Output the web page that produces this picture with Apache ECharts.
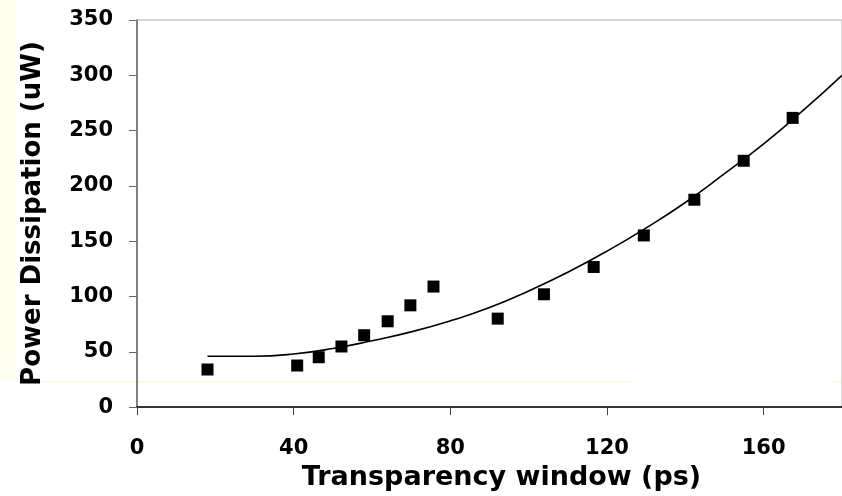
<!DOCTYPE html>
<html>
<head>
<meta charset="utf-8">
<script src="https://cdn.jsdelivr.net/npm/echarts@6/dist/echarts.min.js"></script>
<style>
html,body{margin:0;padding:0;background:#fff;}
#chart{width:842px;height:496px;}
</style>
</head>
<body>
<div id="chart"></div>
<script>
// Measured points
const pointX = [18.0, 40.9, 46.4, 52.2, 58.0, 64.0, 69.8, 75.7, 92.1, 103.9, 116.6, 129.4, 142.3, 154.9, 167.4];
const pointY = [34, 37.6, 45.1, 54.8, 65, 77.6, 92, 109, 80, 102, 126.7, 155.2, 187.5, 222.7, 261.5];
// Trend curve
const trendX = [18, 30, 40, 50, 60, 70, 80, 90, 100, 110, 120, 130, 140, 150, 160, 170, 180];
const trendY = [46, 46, 48, 53, 60, 68, 78, 90, 105, 122, 141, 162, 185, 211, 238, 268, 300];
const xTicks = [0, 40, 80, 120, 160];
const yTicks = [0, 50, 100, 150, 200, 250, 300, 350];

const chart = echarts.init(document.getElementById('chart'), null, {renderer: 'canvas'});
const font = 'DejaVu Sans, Liberation Sans, Arial, sans-serif';
chart.setOption({
  animation: false,
  backgroundColor: '#ffffff',
  graphic: [
    {type: 'rect', z: -10, shape: {x: 0, y: 0, width: 16, height: 380}, style: {fill: '#fffff0'}},
    {type: 'rect', z: -10, shape: {x: 40, y: 381.5, width: 593, height: 1}, style: {fill: '#f7f7d0'}},
    {type: 'rect', z: -10, shape: {x: 830, y: 381.5, width: 12, height: 1}, style: {fill: '#f7f7d0'}}
  ],
  grid: {
    left: 137, top: 20, width: 709.6, height: 387.7,
    show: true, borderColor: '#b0b0b0', borderWidth: 1, backgroundColor: 'transparent'
  },
  xAxis: {
    type: 'value', min: 0, max: 180, interval: 40,
    name: 'Transparency window (ps)', nameLocation: 'middle', nameGap: 56,
    nameTextStyle: {fontFamily: font, fontWeight: 'bold', fontSize: 27, color: '#000', padding: [0, 0, 0, 24]},
    axisLine: {show: true, onZero: false, lineStyle: {color: '#000', width: 1.5}},
    axisTick: {show: true, length: 8, lineStyle: {color: '#444', width: 1}},
    axisLabel: {
      margin: 31, fontFamily: font, fontWeight: 'bold', fontSize: 21, color: '#000',
      customValues: xTicks
    },
    splitLine: {show: false}
  },
  yAxis: {
    type: 'value', min: 0, max: 350, interval: 50,
    name: 'Power Dissipation (uW)', nameLocation: 'middle', nameGap: 91,
    nameTextStyle: {fontFamily: font, fontWeight: 'bold', fontSize: 26, color: '#000'},
    axisLine: {show: true, lineStyle: {color: '#666', width: 1.5}},
    axisTick: {show: true, length: 8, lineStyle: {color: '#666', width: 1}},
    axisLabel: {
      margin: 24, fontFamily: font, fontWeight: 'bold', fontSize: 21, color: '#000',
      customValues: yTicks
    },
    splitLine: {show: false}
  },
  series: [
    {
      type: 'line', smooth: true, showSymbol: false, symbol: 'none',
      data: trendX.map((x, i) => [x, trendY[i]]),
      lineStyle: {color: '#000', width: 1.6}, z: 2, silent: true
    },
    {
      type: 'scatter', symbol: 'rect', symbolSize: 12,
      data: pointX.map((x, i) => [x, pointY[i]]),
      itemStyle: {color: '#000', opacity: 1}, z: 3
    }
  ]
});
</script>
</body>
</html>
